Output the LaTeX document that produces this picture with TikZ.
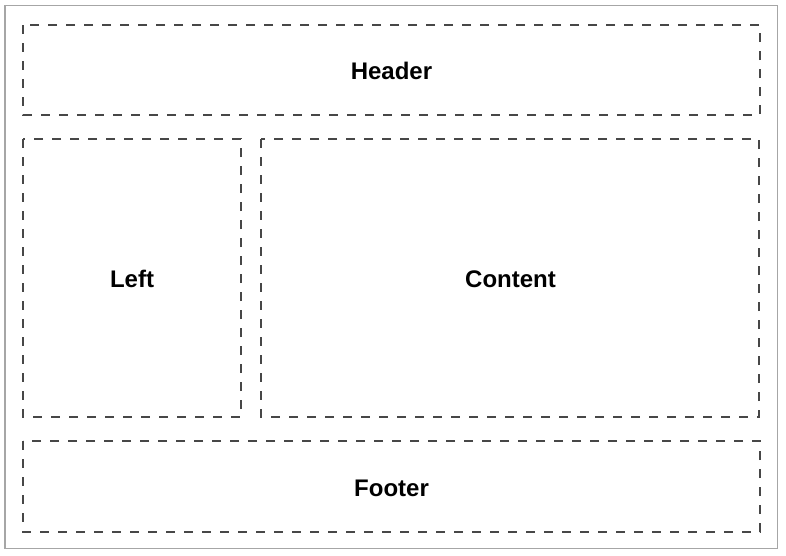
\documentclass[tikz,border=0pt]{standalone}
\usepackage{fontspec}
\setmainfont{Liberation Sans}
\begin{document}
\begin{tikzpicture}[x=1pt,y=-1pt,
  region/.style={draw=black!72, line width=1.8pt, dash pattern=on 9pt off 9pt, fill=none},
  lbl/.style={font=\fontsize{24}{28}\selectfont\bfseries, text=black}]
\useasboundingbox (0,0) rectangle (786,555);
\fill[white] (0,0) rectangle (786,555);
\draw[black!35, line width=1.2pt] (5,5.5) rectangle (777.5,548.5);
\draw[region] (23,25) rectangle (760,115);
\draw[region] (23,139) rectangle (241,417);
\draw[region] (261,139) rectangle (759,417);
\draw[region] (23,441) rectangle (760,532);
\node[lbl] (header) at (391.5,71) {Header};
\node[lbl] (left) at (132,279) {Left};
\node[lbl] (content) at (510.5,279) {Content};
\node[lbl] (footer) at (391.5,488.5) {Footer};
\end{tikzpicture}
\end{document}
